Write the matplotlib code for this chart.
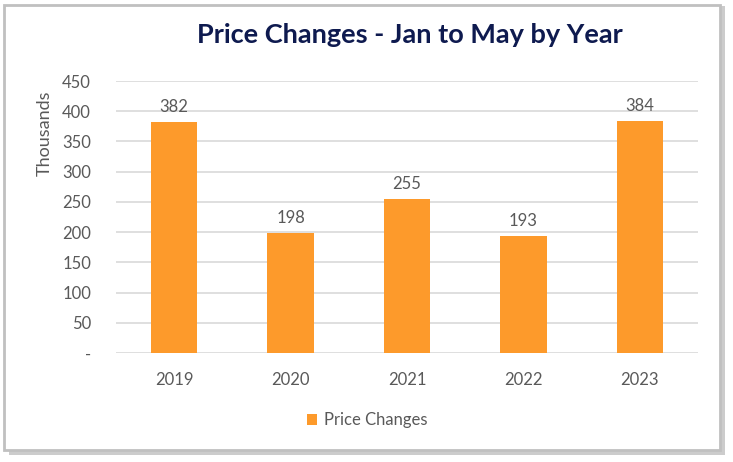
import matplotlib.pyplot as plt
from matplotlib.patches import Rectangle

# Data
years = ["2019", "2020", "2021", "2022", "2023"]
price_changes = [382, 198, 255, 193, 384]
y_ticks = [0, 50, 100, 150, 200, 250, 300, 350, 400, 450]
y_tick_labels = ["-", "50", "100", "150", "200", "250", "300", "350", "400", "450"]

plt.rcParams['font.family'] = ['Lato', 'DejaVu Sans']
text_color = "#595959"
bar_color = "#fd9a2b"

W, H = 733, 462
fig = plt.figure(figsize=(W / 100, H / 100), dpi=100)

# Border with drop shadow
fig.patches.append(Rectangle((9 / W, 1 - 455 / H), 716 / W, 449 / H, transform=fig.transFigure,
                             facecolor="#cccccc", edgecolor="none", zorder=0))
fig.patches.append(Rectangle((4 / W, 1 - 450 / H), 716 / W, 445 / H, transform=fig.transFigure,
                             facecolor="white", edgecolor="#c0c0c0", linewidth=2, zorder=1))

ax = fig.add_axes([116 / W, 1 - 353 / H, (698 - 116) / W, (353 - 81) / H])
ax.set_zorder(2)
ax.patch.set_alpha(0)

x = range(len(years))
bars = ax.bar(x, price_changes, width=0.4, color=bar_color, label="Price Changes", zorder=3)
for xi, v in zip(x, price_changes):
    ax.text(xi, v + 12, str(v), ha="center", va="bottom", fontsize=12, color=text_color)

ax.set_xlim(-0.5, len(years) - 0.5)
ax.set_ylim(0, 450)
ax.set_yticks(y_ticks)
ax.set_yticklabels(y_tick_labels)
ax.set_xticks(list(x))
ax.set_xticklabels(years)
ax.grid(axis="y", color="#d9d9d9", linewidth=1.2, zorder=0)
ax.tick_params(length=0, colors=text_color, labelsize=12)
ax.tick_params(axis="y", pad=18)
ax.tick_params(axis="x", pad=14)
for s in ax.spines.values():
    s.set_visible(False)

fig.text(45 / W, 1 - 133 / H, "Thousands", rotation=90, ha="center", va="center",
         fontsize=13, color=text_color)
fig.text(410 / W, 1 - 35 / H, "Price Changes - Jan to May by Year", ha="center", va="center",
         fontsize=19.5, fontweight="bold", color="#0e1a4f")

fig.legend(handles=[bars], loc="center", bbox_to_anchor=(367 / W, 1 - 420 / H), frameon=False,
           fontsize=12, labelcolor=text_color, handlelength=0.65, handleheight=0.65,
           handletextpad=0.4)

fig.savefig("out.png", dpi=100)
